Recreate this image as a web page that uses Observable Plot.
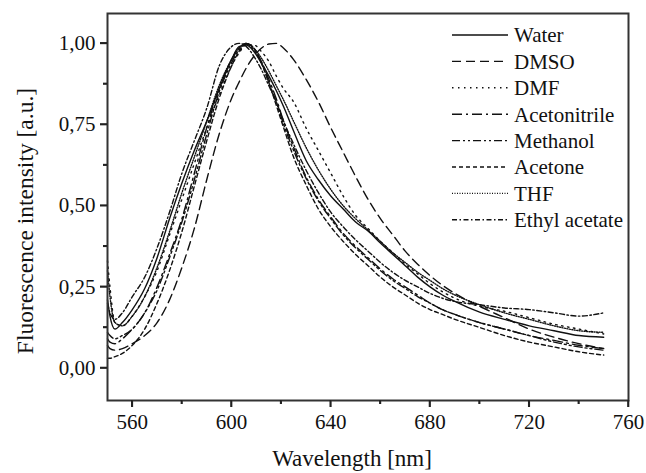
<!DOCTYPE html>
<html><head><meta charset="utf-8">
<script src="https://cdn.jsdelivr.net/npm/d3@7"></script>
<script src="https://cdn.jsdelivr.net/npm/@observablehq/plot@0.6"></script>
<style>
body{margin:0;background:#fff;}
svg text{font-family:"Liberation Serif","DejaVu Serif",Tinos,Times,serif !important;}
</style>
</head><body><div id="chart"></div>
<script>
const wavelength = [550,551,553,556,560,565,570,575,580,585,590,595,600,603,606,609,612,615,618,621,625,630,635,640,645,650,655,660,665,670,675,680,685,690,700,710,720,730,740,750];
const water   = [.21,.16,.12,.14,.18,.245,.34,.46,.57,.67,.76,.86,.95,.99,.995,.975,.94,.9,.855,.805,.73,.64,.58,.53,.49,.45,.422,.385,.35,.315,.28,.25,.225,.205,.172,.15,.13,.115,.1,.095];
const dmso    = [.07,.06,.055,.06,.075,.1,.14,.21,.31,.43,.58,.72,.83,.88,.925,.96,.985,.998,1.0,.985,.95,.89,.82,.74,.665,.59,.52,.46,.41,.36,.32,.285,.255,.23,.19,.155,.12,.095,.075,.06];
const dmf     = [.33,.25,.14,.13,.16,.22,.3,.41,.52,.63,.74,.84,.93,.97,.995,.995,.975,.945,.9,.86,.82,.74,.67,.6,.53,.47,.43,.39,.355,.32,.29,.26,.235,.215,.19,.175,.155,.135,.12,.105];
const acetonitrile = [.09,.08,.075,.09,.12,.17,.25,.35,.46,.6,.74,.86,.95,.985,1.0,.985,.945,.89,.83,.76,.68,.59,.52,.465,.415,.375,.34,.305,.275,.25,.225,.2,.18,.165,.14,.12,.1,.085,.07,.06];
const methanol = [.11,.1,.09,.1,.12,.17,.24,.34,.45,.58,.72,.85,.94,.98,.998,.98,.94,.88,.82,.75,.67,.585,.515,.46,.41,.37,.335,.3,.27,.245,.22,.2,.18,.165,.14,.12,.1,.08,.065,.055];
const acetone = [.03,.03,.035,.045,.07,.12,.2,.3,.42,.56,.7,.83,.93,.975,.998,.985,.94,.88,.81,.74,.65,.565,.49,.435,.39,.35,.315,.28,.25,.225,.2,.18,.165,.15,.125,.1,.08,.065,.05,.04];
const thf     = [.3,.22,.14,.13,.16,.22,.31,.42,.54,.65,.76,.87,.95,.985,1.0,.985,.955,.915,.87,.825,.76,.68,.61,.55,.5,.46,.425,.39,.355,.325,.295,.27,.245,.225,.195,.17,.15,.13,.115,.11];
const ethylAcetate = [.2,.17,.15,.17,.22,.28,.37,.48,.6,.7,.8,.93,.99,1.0,.99,.96,.92,.87,.82,.76,.69,.61,.54,.48,.435,.395,.36,.325,.295,.27,.25,.23,.215,.205,.195,.185,.18,.17,.16,.17];

const seriesNames = ["Water","DMSO","DMF","Acetonitrile","Methanol","Acetone","THF","Ethyl acetate"];
const seriesValues = [water,dmso,dmf,acetonitrile,methanol,acetone,thf,ethylAcetate];
const xTicks = [560,600,640,680,720,760];
const xMinor = [580,620,660,700,740];
const yTicks = [0,0.25,0.5,0.75,1.0];
const yMinor = [0.125,0.375,0.625,0.875];

const dashes = {
  "Water": null,
  "DMSO": "9,5",
  "DMF": "1.5,4.5",
  "Acetonitrile": "10,4,2,4",
  "Methanol": "8,3,2,3,2,3",
  "Acetone": "4,3",
  "THF": "1,1.5",
  "Ethyl acetate": "5,2.5,1.5,2.5"
};
const ink = "#111";
const axisInk = "#222";
const serif = "Liberation Serif, DejaVu Serif, Tinos, Times, serif";
const fmt = d => d.toFixed(2).replace(".", ",");

const lineMarks = seriesNames.map((name, i) => {
  const rows = wavelength.map((w, j) => ({wl: w, v: seriesValues[i][j]}));
  return Plot.line(rows, {x: "wl", y: "v", curve: "monotone-x", stroke: ink, strokeWidth: 1.4,
    strokeDasharray: dashes[name] || undefined});
});

const chart = Plot.plot({
  width: 646, height: 473,
  marginLeft: 107, marginRight: 18, marginTop: 13, marginBottom: 73,
  style: {fontFamily: serif, fontSize: "21px", color: ink, background: "#fff"},
  x: {domain: [550, 760]},
  y: {domain: [-0.1, 1.092]},
  marks: [
    Plot.axisX({ticks: xTicks, tickSize: 7, tickPadding: 7, tickFormat: d => String(d), label: null, strokeWidth: 1.6, stroke: axisInk}),
    Plot.axisX({ticks: xMinor, tickSize: 4, tickFormat: () => "", label: null, strokeWidth: 1.6, stroke: axisInk}),
    Plot.axisY({ticks: yTicks, tickSize: 7, tickPadding: 5, tickFormat: fmt, label: null, strokeWidth: 1.6, stroke: axisInk}),
    Plot.axisY({ticks: yMinor, tickSize: 4, tickFormat: () => "", label: null, strokeWidth: 1.6, stroke: axisInk}),
    ...lineMarks,
    Plot.frame({stroke: "#333", strokeWidth: 2}),
    Plot.text(["Wavelength [nm]"], {frameAnchor: "bottom", textAnchor: "middle", lineAnchor: "middle", dy: 58, dx: -16, fontSize: 23, fill: ink}),
    Plot.text(["Fluorescence intensity [a.u.]"], {frameAnchor: "left", textAnchor: "middle", lineAnchor: "middle", rotate: -90, dx: -82, dy: 14, fontSize: 23.5, fill: ink})
  ]
});

// make sure the outward tick lines are drawn, using the plot's own scales
const svg = d3.select(chart);
const sx = chart.scale("x"), sy = chart.scale("y");
const x0 = sx.range[0], yb = sy.range[0];
const tg = svg.append("g").attr("stroke", axisInk).attr("stroke-width", 1.6);
xTicks.forEach(t => tg.append("line").attr("x1", sx.apply(t)).attr("x2", sx.apply(t)).attr("y1", yb).attr("y2", yb + 7));
xMinor.forEach(t => tg.append("line").attr("x1", sx.apply(t)).attr("x2", sx.apply(t)).attr("y1", yb).attr("y2", yb + 4));
yTicks.forEach(t => tg.append("line").attr("y1", sy.apply(t)).attr("y2", sy.apply(t)).attr("x1", x0).attr("x2", x0 - 7));
yMinor.forEach(t => tg.append("line").attr("y1", sy.apply(t)).attr("y2", sy.apply(t)).attr("x1", x0).attr("x2", x0 - 4));

// legend inside the plot (layout in pixels)
const lg = svg.append("g").attr("font-family", serif).attr("font-size", 21).attr("text-anchor", "start");
seriesNames.forEach((name, i) => {
  const y = 35 + i * 26.4;
  lg.append("line").attr("x1", 452).attr("x2", 508).attr("y1", y).attr("y2", y)
    .attr("stroke", ink).attr("stroke-width", 1.4).attr("stroke-dasharray", dashes[name]);
  lg.append("text").attr("x", 514).attr("y", y).attr("dy", "0.35em").attr("fill", ink).text(name);
});

document.getElementById("chart").appendChild(chart);
</script>
</body></html>
